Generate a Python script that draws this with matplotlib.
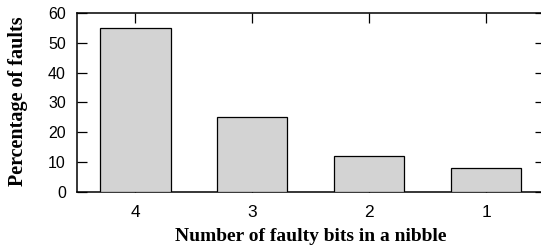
import numpy as np
import matplotlib.pyplot as plt

# данные: число сбойных бит в полубайте и доля отказов (%)
bits = ['4', '3', '2', '1']
percent = [55, 25, 12, 8]

plt.rcParams['font.family'] = 'Liberation Sans'

fig = plt.figure(figsize=(5.41, 2.45), dpi=100)
ax = fig.add_axes([77 / 541, (245 - 192) / 245, (544.5 - 77) / 541, (192 - 13) / 245])

x = np.arange(len(bits))
ax.bar(x, percent, width=0.6, color='lightgray', edgecolor='black', linewidth=0.9, zorder=3)

ax.set_xlim(-0.5, 3.5)
ax.set_ylim(0, 60)
ax.set_xticks(x)
ax.set_xticklabels(bits)
ax.set_yticks(range(0, 61, 10))
ax.tick_params(direction='in', length=7, width=0.9, top=True, right=True, colors='black')
ax.tick_params(axis='y', labelsize=11.5, pad=8)
ax.tick_params(axis='x', labelsize=12.5, pad=9)
for s in ax.spines.values():
    s.set_linewidth(1.1)

ax.set_xlabel('Number of faulty bits in a nibble', family='Liberation Serif',
              fontweight='bold', fontsize=14)
ax.set_ylabel('Percentage of faults', family='Liberation Serif',
              fontweight='bold', fontsize=14.5)
ax.xaxis.set_label_coords(0.5005, -0.2)
ax.yaxis.set_label_coords(-0.104, 0.506)

plt.savefig('out.png', dpi=100)
